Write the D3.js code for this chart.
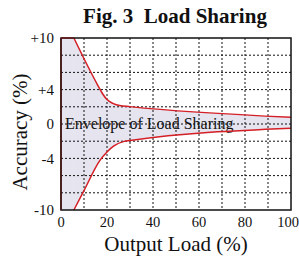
<!DOCTYPE html>
<html>
<head>
<meta charset="utf-8">
<script src="https://cdn.jsdelivr.net/npm/d3@7/dist/d3.min.js"></script>
<style>
  * { margin: 0; padding: 0; }
  body { background: #fff; width: 299px; height: 260px; overflow: hidden; }
  text { font-family: 'Liberation Serif', 'Times New Roman', serif; fill: #111; }
</style>
</head>
<body>
<svg id="chart" width="299" height="260"></svg>
<script>
// envelope curves, [output load %, accuracy %]
const upperCurve = [[5.6, 10], [16, 4.5], [18, 3.55], [20, 2.85], [22.5, 2.4], [25.5, 2.15], [30, 2.02], [100, 0.78]];
const lowerCurve = [[5.6, -10], [9.7, -7.9], [17, -4.2], [20, -3.25], [23, -2.55], [27.5, -2.02], [30, -1.92], [100, -0.48]];
const xTicks = [0, 20, 40, 60, 80, 100];
const yTicks = [10, 4, 0, -4, -10];
const yTickLabels = ["+10", "+4", "0", "-4", "-10"];
const xGrid = [10, 20, 30, 40, 50, 60, 70, 80, 90];
const yGrid = [8, 6, 4, 2, 0, -2, -4, -6, -8];

const svg = d3.select("#chart");
const x = d3.scaleLinear().domain([0, 100]).range([61, 291]);
const y = d3.scaleLinear().domain([-10, 10]).range([210, 38]);

// shaded envelope: fill under upper curve, then blank out below the lower curve
svg.append("rect")
  .attr("x", x(0)).attr("y", y(10))
  .attr("width", x(upperCurve[0][0]) - x(0)).attr("height", y(-10) - y(10))
  .attr("fill", "#e6e4ef");

const fillArea = d3.area().curve(d3.curveMonotoneX)
  .x(d => x(d[0])).y0(y(-10)).y1(d => y(d[1]));
svg.append("path").datum(upperCurve).attr("d", fillArea).attr("fill", "#e6e4ef");
svg.append("path").datum(lowerCurve).attr("d", fillArea).attr("fill", "#fff");

svg.append("text")
  .attr("x", 65).attr("y", 129)
  .attr("font-size", 16)
  .text("Envelope of Load Sharing");

// dotted grid
const grid = svg.append("g").attr("stroke", "#111").attr("stroke-width", 1).attr("stroke-dasharray", "2,2");
grid.selectAll(".gx").data(xGrid).join("line")
  .attr("x1", d => x(d)).attr("x2", d => x(d)).attr("y1", y(10)).attr("y2", y(-10));
grid.selectAll(".gy").data(yGrid).join("line")
  .attr("y1", d => y(d)).attr("y2", d => y(d)).attr("x1", x(0)).attr("x2", x(100));

// curves
const line = d3.line().curve(d3.curveMonotoneX).x(d => x(d[0])).y(d => y(d[1]));
[upperCurve, lowerCurve].forEach(c => {
  svg.append("path").datum(c).attr("d", line)
    .attr("fill", "none").attr("stroke", "#d41f26").attr("stroke-width", 1.5);
});

// frame
svg.append("rect")
  .attr("x", x(0)).attr("y", y(10))
  .attr("width", x(100) - x(0)).attr("height", y(-10) - y(10))
  .attr("fill", "none").attr("stroke", "#111").attr("stroke-width", 1.5);
svg.append("line")
  .attr("x1", x(0)).attr("x2", x(0)).attr("y1", y(10)).attr("y2", y(-10))
  .attr("stroke", "#4a1414").attr("stroke-width", 1.5);
svg.append("line")
  .attr("x1", x(0)).attr("x2", x(upperCurve[0][0])).attr("y1", y(10)).attr("y2", y(10))
  .attr("stroke", "#6a1818").attr("stroke-width", 1.5);

// tick labels
svg.selectAll(".yl").data(yTicks).join("text")
  .attr("x", 54).attr("y", d => y(d)).attr("dy", "0.35em")
  .attr("text-anchor", "end").attr("font-size", 15)
  .text((d, i) => yTickLabels[i]);
svg.selectAll(".xl").data(xTicks).join("text")
  .attr("x", d => Math.min(x(d), 288)).attr("y", 227)
  .attr("text-anchor", "middle").attr("font-size", 14.5)
  .text(d => d);

// titles
svg.append("text")
  .attr("x", 175).attr("y", 23)
  .attr("text-anchor", "middle").attr("font-size", 21).attr("font-weight", "bold")
  .text("Fig. 3\u00a0\u00a0Load Sharing");
svg.append("text")
  .attr("x", 176).attr("y", 251)
  .attr("text-anchor", "middle").attr("font-size", 21)
  .text("Output Load (%)");
svg.append("text")
  .attr("transform", "translate(27,132) rotate(-90)")
  .attr("text-anchor", "middle").attr("font-size", 21)
  .text("Accuracy (%)");
</script>
</body>
</html>
